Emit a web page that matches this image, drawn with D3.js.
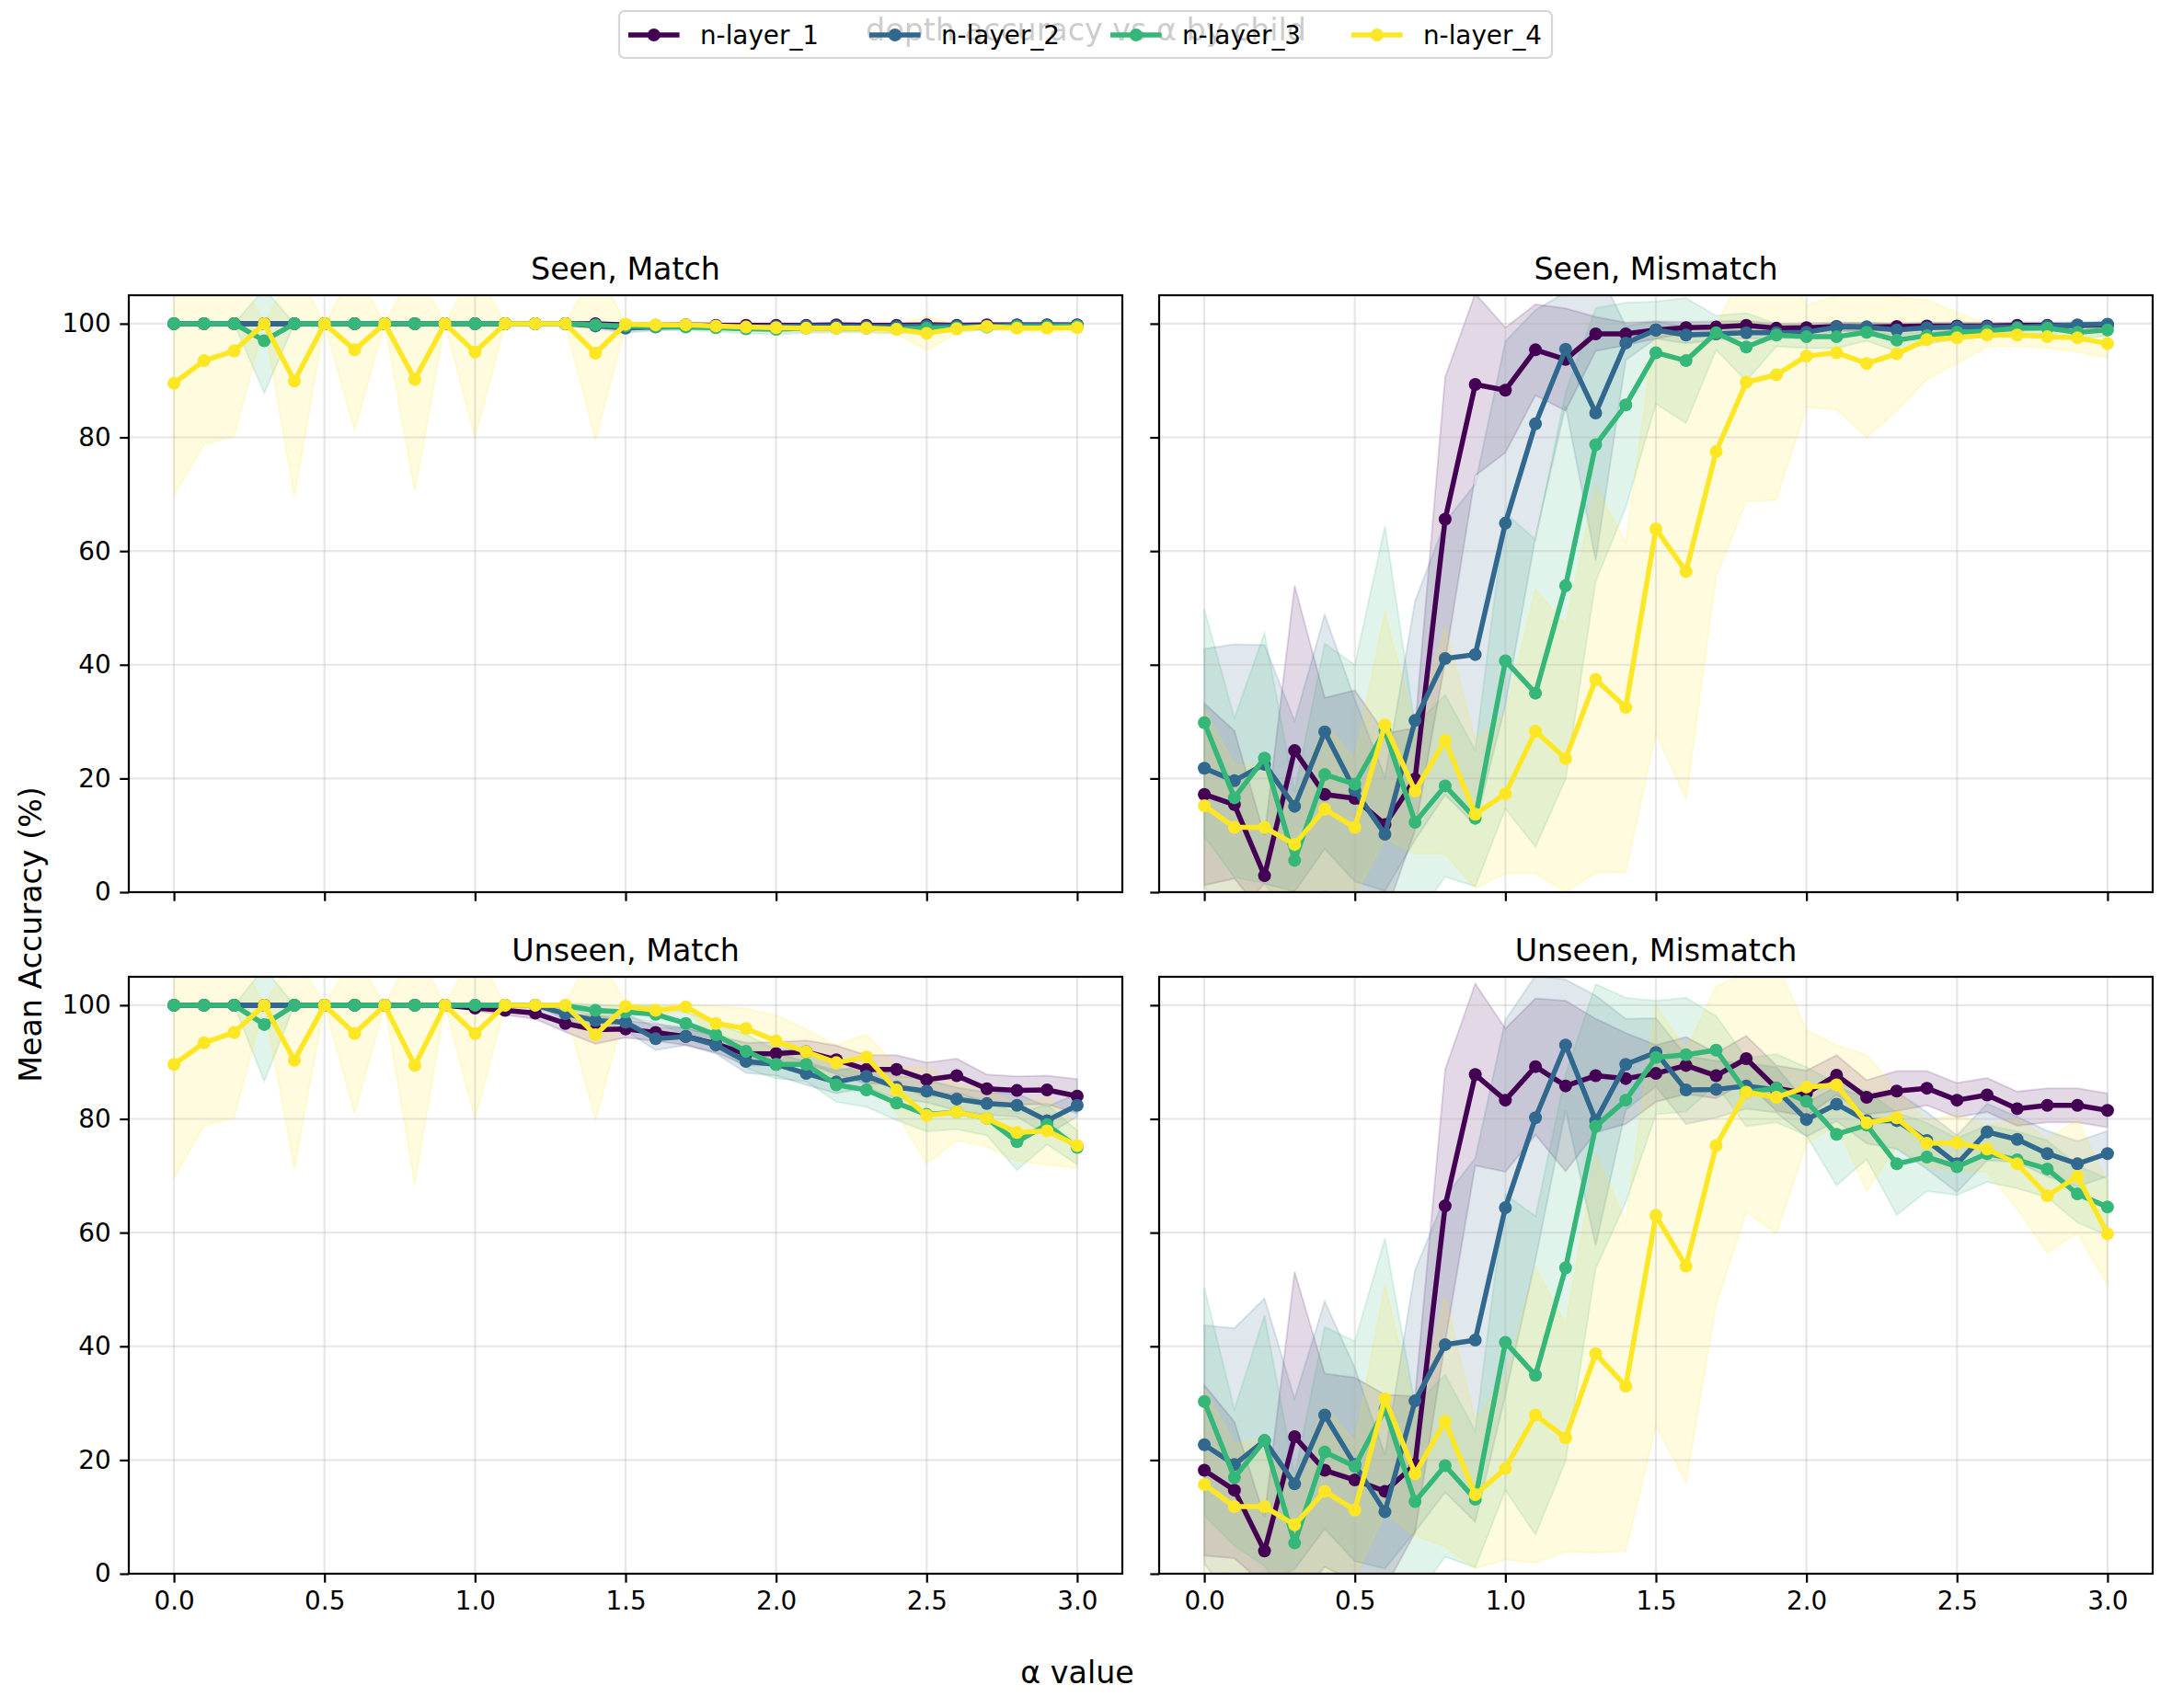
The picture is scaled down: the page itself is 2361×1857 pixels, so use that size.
<!DOCTYPE html>
<html>
<head>
<meta charset="utf-8">
<script src="https://cdn.jsdelivr.net/npm/d3@7"></script>
<style>
  body { margin: 0; background: #fff; }
  text { font-family: "DejaVu Sans", sans-serif; }
</style>
</head>
<body>
<svg id="chart"></svg>
<script>
// alpha grid
const alphas = [0.0, 0.1, 0.2, 0.3, 0.4, 0.5, 0.6, 0.7, 0.8, 0.9, 1.0, 1.1, 1.2, 1.3, 1.4, 1.5,
  1.6, 1.7, 1.8, 1.9, 2.0, 2.1, 2.2, 2.3, 2.4, 2.5, 2.6, 2.7, 2.8, 2.9, 3.0];

const seriesNames = ['n-layer_1', 'n-layer_2', 'n-layer_3', 'n-layer_4'];
const seriesColors = ['#440154', '#31688e', '#35b779', '#fde725'];
const panelTitles = ['Seen, Match', 'Seen, Mismatch', 'Unseen, Match', 'Unseen, Mismatch'];
const yTicks = [0, 20, 40, 60, 80, 100];
const xTicks = [0.0, 0.5, 1.0, 1.5, 2.0, 2.5, 3.0];

// Seen, Match
const seenMatch1 = [100,100,100,100,100,100,100,100,100,100,100,100,100,100,100,99.8,99.7,99.8,99.7,99.7,99.7,99.7,99.8,99.7,99.7,99.8,99.7,99.8,99.8,99.8,99.8];
const seenMatch1Sd = [0,0,0,0,0,0,0,0,0,0,0,0,0,0,0,0.3,0.4,0.3,0.4,0.4,0.4,0.4,0.3,0.4,0.4,0.3,0.4,0.3,0.3,0.3,0.3];
const seenMatch2 = [100,100,100,100,100,100,100,100,100,100,100,100,100,100,99.6,99.2,99.4,99.5,99.5,99.4,99.5,99.6,99.6,99.5,99.5,99.6,99.6,99.6,99.7,99.7,99.7];
const seenMatch2Sd = [0,0,0,0,0,0,0,0,0,0,0,0,0,0,0.5,0.8,0.6,0.5,0.5,0.6,0.5,0.4,0.4,0.5,0.5,0.4,0.4,0.4,0.3,0.3,0.3];
const seenMatch3 = [100,100,100,97.0,100,100,100,100,100,100,100,100,100,100,99.8,99.6,99.5,99.4,99.3,99.1,99.0,99.2,99.2,99.2,99.1,99.2,99.3,99.4,99.5,99.5,99.6];
const seenMatch3Sd = [0,0,0,9.2,0,0,0,0,0,0,0,0,0,0,0.3,0.5,0.6,0.6,0.7,0.8,0.9,0.8,0.7,0.7,0.8,0.7,0.6,0.5,0.5,0.5,0.4];
const seenMatch4 = [89.5,93.5,95.2,100,89.9,100,95.4,100,90.2,100,95.0,100,100,100,94.8,99.9,99.8,99.8,99.6,99.4,99.3,99.2,99.2,99.2,99.0,98.3,99.1,99.5,99.2,99.2,99.3];
const seenMatch4Sd = [19.7,14.8,15.0,0,20.5,0,14.1,0,19.7,0,15.0,0,0,0,15.2,0.3,0.4,0.4,0.5,0.6,0.7,0.7,0.7,0.7,0.8,3.0,0.8,0.5,0.7,0.7,0.6];

// Seen, Mismatch
const seenMis1 = [17.2,15.4,2.9,24.9,17.2,16.5,11.9,19.9,65.6,89.3,88.3,95.4,93.7,98.2,98.2,98.9,99.3,99.4,99.7,99.2,99.3,99.5,99.4,99.5,99.6,99.6,99.6,99.7,99.7,99.7,99.8];
const seenMis1Sd = [16,13,7,29,17,19,16,9,25,16,11,8,9,3,2,1.5,1,1,0.8,0.8,0.8,0.7,0.7,0.6,0.6,0.6,0.5,0.5,0.5,0.4,0.4];
const seenMis2 = [21.8,19.6,22.5,15.1,28.2,17.9,10.2,30.2,41.1,41.8,64.9,82.4,95.5,84.3,96.6,98.9,98.0,98.2,98.4,98.4,98.5,99.4,99.4,98.9,99.3,99.4,99.4,99.4,99.6,99.8,99.9];
const seenMis2Sd = [21,24,21,15,20.6,16,10,21,24,30,32,20,10,26,3,1.5,1.5,1,1,1,1,0.8,0.8,1,0.8,0.8,0.8,0.7,0.6,0.5,0.5];
const seenMis3 = [29.8,16.6,23.6,5.6,20.7,19.0,28.4,12.3,18.7,13.0,40.7,35.0,53.9,78.7,85.7,94.9,93.5,98.4,95.9,98.0,97.7,97.7,98.5,97.1,97.9,98.5,98.7,99.2,99.2,98.5,98.9];
const seenMis3Sd = [20,14,22,12,23,21,36,17,16,12,26,27,34,24,18,9,11,3,6,2,2,2,1.5,2,1.5,1.2,1,1,1,1.2,1];
const seenMis4 = [15.2,11.4,11.4,8.4,14.6,11.4,29.4,17.8,26.7,13.7,17.3,28.3,23.5,37.4,32.5,63.9,56.4,77.5,89.7,91.0,94.3,94.9,93.0,94.7,97.2,97.5,98.0,98.0,97.7,97.5,96.5];
const seenMis4Sd = [17,11,11,8,15,12,20,11,20,13,14,25,23.5,34,29,36,40,22,21,22,9,10,13,10,7,4.5,2,2,2,2.5,2.5];

// Unseen, Match
const unseenMatch1 = [100,100,100,100,100,100,100,100,100,100,99.5,99.1,98.6,96.8,95.7,95.8,95.2,94.5,93.2,91.4,91.5,91.8,90.4,88.7,88.7,86.9,87.6,85.3,85.0,85.1,84.0];
const unseenMatch1Sd = [0,0,0,0,0,0,0,0,0,0,0.5,0.8,1,1.5,2.5,1.5,1.5,1.5,1.5,2,2,2,2.5,2.5,2.5,3,3,2.5,2.5,2.5,3];
const unseenMatch2 = [100,100,100,100,100,100,100,100,100,100,100,100,100,98.5,97.3,97.0,94.1,94.5,93.0,90.1,89.6,88.0,86.5,87.5,85.6,84.9,83.5,82.7,82.4,79.7,82.4];
const unseenMatch2Sd = [0,0,0,0,0,0,0,0,0,0,0,0,0,1,1.5,1.5,2,1.5,1.5,2,2,2,2,2,2,2,2,2,2,2.5,2];
const unseenMatch3 = [100,100,100,96.6,100,100,100,100,100,100,100,100,100,99.9,99.1,98.8,98.4,96.8,94.8,91.9,89.6,89.6,86.0,85.1,82.8,80.8,81.2,80.1,76.0,79.0,75.0];
const unseenMatch3Sd = [0,0,0,10,0,0,0,0,0,0,0,0,0,0.5,1,1,1.5,2,2,3,2.5,3,3,3,3,3,3,3,5,3.5,3];
const unseenMatch4 = [89.6,93.4,95.2,100,90.3,100,95.0,100,89.4,100,95.0,100,100,100,94.8,99.8,99.1,99.7,96.8,95.9,93.7,91.8,89.9,90.9,85.1,80.6,81.2,80.1,77.6,77.9,75.3];
const unseenMatch4Sd = [20,14.6,15,0,19,0,14,0,21,0,15,0,0,0.5,15,0.5,1,0.5,3,3.5,4.5,4,3,4,4,8.5,5,5,5,6,4];

// Unseen, Mismatch
const unseenMis1 = [18.2,14.7,4.0,24.1,18.2,16.5,14.5,19.2,64.7,87.8,83.3,89.2,85.8,87.6,87.1,88.0,89.4,87.6,90.6,85.4,84.5,87.7,83.8,84.9,85.4,83.3,84.2,81.8,82.4,82.4,81.5];
const unseenMis1Sd = [15,12,6,29,17,18,17,12,24,16,12.6,12,15,10,8,5,5,4,4,4,4,3.5,3,3.5,3,3,3,3,3,3,3];
const unseenMis2 = [22.7,19.2,23.4,15.8,27.9,19.2,10.9,30.4,40.3,41.1,64.4,80.2,93.0,79.7,89.6,91.7,85.1,85.2,85.8,85.1,79.9,82.6,79.7,79.7,76.2,72.1,77.7,76.4,73.9,72.1,73.9];
const unseenMis2Sd = [21,24,25,15,20,17,10,23,26,32,33,25,11.5,22,8,6,6,5,4,4,3,3,4,5,5,5,5,4,4,4,4];
const unseenMis3 = [30.3,16.9,23.4,5.4,21.4,18.9,29.0,12.7,19.0,13.1,40.7,34.9,53.8,78.7,83.3,90.8,91.3,92.1,84.7,85.4,83.1,77.3,78.9,72.1,73.3,71.6,73.9,72.8,71.2,66.8,64.5];
const unseenMis3Sd = [20,12,22,12,22,22,30,17,16,12,26,28,34,25,18,10,10,6,6,6,6,9,6,9,6,5,5,5,5,5,5];
const unseenMis4 = [15.7,11.8,11.8,8.6,14.5,11.2,30.8,17.6,26.8,13.9,18.5,27.9,23.9,38.7,33.0,63.0,54.1,75.3,84.7,83.8,85.6,86.0,79.3,80.2,75.7,75.8,74.7,72.1,66.5,69.9,59.8];
const unseenMis4Sd = [17,11,12,8,15,12,20,11,22,13,16,26,20,35,29,37,38,28,21,24,10,7,12,5,4,5,4,8,10,10,9];

const panelMeans = [
  [seenMatch1, seenMatch2, seenMatch3, seenMatch4],
  [seenMis1, seenMis2, seenMis3, seenMis4],
  [unseenMatch1, unseenMatch2, unseenMatch3, unseenMatch4],
  [unseenMis1, unseenMis2, unseenMis3, unseenMis4],
];
const panelSds = [
  [seenMatch1Sd, seenMatch2Sd, seenMatch3Sd, seenMatch4Sd],
  [seenMis1Sd, seenMis2Sd, seenMis3Sd, seenMis4Sd],
  [unseenMatch1Sd, unseenMatch2Sd, unseenMatch3Sd, unseenMatch4Sd],
  [unseenMis1Sd, unseenMis2Sd, unseenMis3Sd, unseenMis4Sd],
];

const width = 2361;
const height = 1857;
const axW = 1080;
const axH = 649;
const lefts = [140, 1260];
const tops = [321, 1062];
const tickFont = 27.8;
const titleFont = 33.3;

const svg = d3.select('#chart').attr('width', width).attr('height', height);

const x = d3.scaleLinear().domain([-0.15, 3.15]).range([0, axW]);
const y = d3.scaleLinear().domain([0, 105]).range([axH, 0]);

const line = d3.line().x((d, i) => x(alphas[i])).y((d) => y(d));

panelTitles.forEach((title, p) => {
  const col = p % 2;
  const row = Math.floor(p / 2);
  const g = svg.append('g').attr('transform', `translate(${lefts[col]},${tops[row]})`);

  g.append('clipPath').attr('id', `clip${p}`)
    .append('rect').attr('width', axW).attr('height', axH);

  const plot = g.append('g').attr('clip-path', `url(#clip${p})`);

  // std bands
  panelMeans[p].forEach((means, s) => {
    const sds = panelSds[p][s];
    const area = d3.area()
      .x((d, i) => x(alphas[i]))
      .y0((d, i) => y(d - sds[i]))
      .y1((d, i) => y(d + sds[i]));
    plot.append('path')
      .datum(means)
      .attr('d', area)
      .attr('fill', seriesColors[s])
      .attr('fill-opacity', 0.15)
      .attr('stroke', seriesColors[s])
      .attr('stroke-opacity', 0.15)
      .attr('stroke-width', 2);
  });

  // grid
  plot.selectAll('.gx').data(xTicks).join('line')
    .attr('x1', (d) => x(d)).attr('x2', (d) => x(d))
    .attr('y1', 0).attr('y2', axH)
    .attr('stroke', '#b0b0b0').attr('stroke-opacity', 0.3).attr('stroke-width', 2.2);
  plot.selectAll('.gy').data(yTicks).join('line')
    .attr('y1', (d) => y(d)).attr('y2', (d) => y(d))
    .attr('x1', 0).attr('x2', axW)
    .attr('stroke', '#b0b0b0').attr('stroke-opacity', 0.3).attr('stroke-width', 2.2);

  // lines + markers
  panelMeans[p].forEach((means, s) => {
    plot.append('path')
      .datum(means)
      .attr('d', line)
      .attr('fill', 'none')
      .attr('stroke', seriesColors[s])
      .attr('stroke-width', 5.5)
      .attr('stroke-linejoin', 'round');
    plot.append('g').selectAll('circle')
      .data(means)
      .join('circle')
      .attr('cx', (d, i) => x(alphas[i]))
      .attr('cy', (d) => y(d))
      .attr('r', 7)
      .attr('fill', seriesColors[s]);
  });

  // axes
  const xAxis = d3.axisBottom(x).tickValues(xTicks).tickSize(9.7).tickSizeOuter(0).tickPadding(9.7)
    .tickFormat(row === 1 ? d3.format('.1f') : () => '');
  const yAxis = d3.axisLeft(y).tickValues(yTicks).tickSize(9.7).tickSizeOuter(0).tickPadding(9.7)
    .tickFormat(col === 0 ? d3.format('d') : () => '');

  const gx = g.append('g').attr('transform', `translate(0,${axH})`).call(xAxis);
  const gy = g.append('g').call(yAxis);
  [gx, gy].forEach((a) => {
    a.select('.domain').remove();
    a.selectAll('line').attr('stroke', '#000').attr('stroke-width', 2.2);
    a.selectAll('text').attr('fill', '#000').style('font-size', `${tickFont}px`)
      .style('font-family', '"DejaVu Sans", sans-serif');
  });

  g.append('rect')
    .attr('width', axW).attr('height', axH)
    .attr('fill', 'none').attr('stroke', '#000').attr('stroke-width', 2.2);

  g.append('text')
    .attr('x', axW / 2).attr('y', -17)
    .attr('text-anchor', 'middle')
    .style('font-size', `${titleFont}px`)
    .text(title);
});

// figure labels
svg.append('text')
  .attr('transform', 'translate(45,1016) rotate(-90)')
  .attr('text-anchor', 'middle')
  .style('font-size', `${titleFont}px`)
  .text('Mean Accuracy (%)');

svg.append('text')
  .attr('x', 1171).attr('y', 1830)
  .attr('text-anchor', 'middle')
  .style('font-size', `${titleFont}px`)
  .text('α value');

// suptitle (sits under the legend)
svg.append('text')
  .attr('x', width / 2).attr('y', 44)
  .attr('text-anchor', 'middle')
  .style('font-size', `${titleFont}px`)
  .text('depth accuracy vs α by child');

// legend
const legend = svg.append('g');
legend.append('rect')
  .attr('x', 673).attr('y', 12).attr('width', 1014).attr('height', 51).attr('rx', 6)
  .attr('fill', '#fff').attr('fill-opacity', 0.8)
  .attr('stroke', '#ccc').attr('stroke-opacity', 0.8).attr('stroke-width', 2.2);

const items = legend.selectAll('.item').data(seriesNames).join('g')
  .attr('transform', (d, i) => `translate(${683 + i * 262},38)`);
items.append('line')
  .attr('x1', 0).attr('x2', 55.6)
  .attr('stroke', (d, i) => seriesColors[i]).attr('stroke-width', 5.5);
items.append('circle')
  .attr('cx', 27.8).attr('r', 7)
  .attr('fill', (d, i) => seriesColors[i]);
items.append('text')
  .attr('x', 78).attr('dy', '0.35em')
  .style('font-size', `${tickFont}px`)
  .text((d) => d);
</script>
</body>
</html>
